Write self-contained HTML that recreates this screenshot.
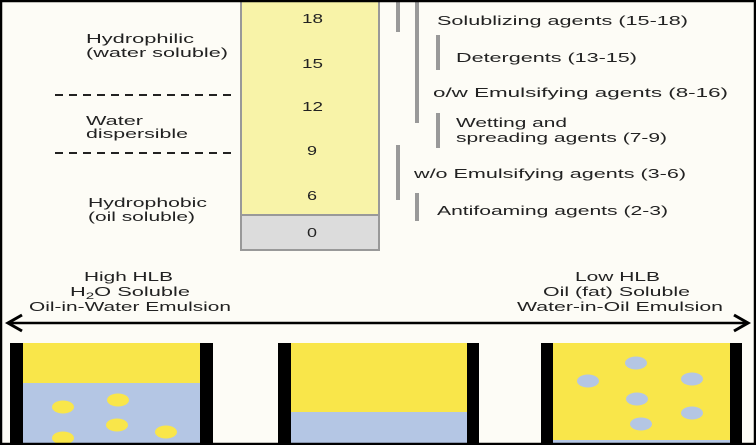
<!DOCTYPE html>
<html><head><meta charset="utf-8"><style>
html,body{margin:0;padding:0}
body{width:756px;height:445px;overflow:hidden;background:#fdfcf6;font-family:"Liberation Sans",sans-serif;color:#222}
svg{display:block}
</style></head><body>
<svg width="756" height="445" viewBox="0 0 756 445" xmlns="http://www.w3.org/2000/svg" font-family="Liberation Sans, sans-serif">
<rect x="0" y="0" width="756" height="445" fill="#fdfcf6"/>
<rect x="241" y="-2" width="138" height="217" fill="#f8f3a8" stroke="#999" stroke-width="2"/>
<rect x="241" y="215" width="138" height="35" fill="#dcdcdc" stroke="#999" stroke-width="2"/>
<g font-size="13" fill="#222" lengthAdjust="spacingAndGlyphs">
<text x="302" y="23" textLength="21" lengthAdjust="spacingAndGlyphs">18</text>
<text x="302" y="68" textLength="21" lengthAdjust="spacingAndGlyphs">15</text>
<text x="302" y="111" textLength="21" lengthAdjust="spacingAndGlyphs">12</text>
<text x="307" y="155" textLength="10" lengthAdjust="spacingAndGlyphs">9</text>
<text x="307" y="200" textLength="10" lengthAdjust="spacingAndGlyphs">6</text>
<text x="307" y="237" textLength="10" lengthAdjust="spacingAndGlyphs">0</text>
</g>
<g stroke="#222" stroke-width="2" stroke-dasharray="8,6">
<line x1="55" y1="95" x2="237" y2="95"/><line x1="55" y1="153" x2="237" y2="153"/>
</g>
<g font-size="13" fill="#222">
<text x="86" y="43" textLength="108" lengthAdjust="spacingAndGlyphs">Hydrophilic</text>
<text x="86" y="57" textLength="142" lengthAdjust="spacingAndGlyphs">(water soluble)</text>
<text x="86" y="125" textLength="57" lengthAdjust="spacingAndGlyphs">Water</text>
<text x="86" y="138" textLength="102" lengthAdjust="spacingAndGlyphs">dispersible</text>
<text x="88" y="207" textLength="119" lengthAdjust="spacingAndGlyphs">Hydrophobic</text>
<text x="88" y="221" textLength="107" lengthAdjust="spacingAndGlyphs">(oil soluble)</text>
</g>
<g fill="#999">
<rect x="396" y="0" width="4" height="32"/>
<rect x="415" y="0" width="4" height="123"/>
<rect x="436" y="35" width="4" height="35"/>
<rect x="436" y="113" width="4" height="35"/>
<rect x="396" y="145" width="4" height="55"/>
<rect x="415" y="193" width="4" height="28"/>
</g>
<g font-size="13" fill="#222">
<text x="437" y="25" textLength="251" lengthAdjust="spacingAndGlyphs">Solublizing agents (15-18)</text>
<text x="456" y="62" textLength="181" lengthAdjust="spacingAndGlyphs">Detergents (13-15)</text>
<text x="433" y="97" textLength="295" lengthAdjust="spacingAndGlyphs">o/w Emulsifying agents (8-16)</text>
<text x="456" y="127" textLength="111" lengthAdjust="spacingAndGlyphs">Wetting and</text>
<text x="456" y="142" textLength="211" lengthAdjust="spacingAndGlyphs">spreading agents (7-9)</text>
<text x="414" y="178" textLength="272" lengthAdjust="spacingAndGlyphs">w/o Emulsifying agents (3-6)</text>
<text x="437" y="215" textLength="231" lengthAdjust="spacingAndGlyphs">Antifoaming agents (2-3)</text>
</g>
<g font-size="13" fill="#222">
<text x="84" y="281" textLength="89" lengthAdjust="spacingAndGlyphs">High HLB</text>
<text x="70" y="296" textLength="120" lengthAdjust="spacingAndGlyphs">H<tspan font-size="9" dy="3">2</tspan><tspan dy="-3">O Soluble</tspan></text>
<text x="29" y="311" textLength="202" lengthAdjust="spacingAndGlyphs">Oil-in-Water Emulsion</text>
<text x="575" y="281" textLength="85" lengthAdjust="spacingAndGlyphs">Low HLB</text>
<text x="543" y="296" textLength="147" lengthAdjust="spacingAndGlyphs">Oil (fat) Soluble</text>
<text x="517" y="311" textLength="206" lengthAdjust="spacingAndGlyphs">Water-in-Oil Emulsion</text>
</g>
<line x1="8" y1="323" x2="748" y2="323" stroke="#000" stroke-width="2.5"/>
<polyline points="22,315 8,323 22,331" fill="none" stroke="#000" stroke-width="3"/>
<polyline points="734,315 748,323 734,331" fill="none" stroke="#000" stroke-width="3"/>
<rect x="23" y="343" width="179" height="40" fill="#f9e64a"/>
<rect x="23" y="383" width="179" height="62" fill="#b4c6e4"/>
<g fill="#f9e64a">
<ellipse cx="63" cy="407" rx="11" ry="6.5"/><ellipse cx="118" cy="400" rx="11" ry="6.5"/><ellipse cx="117" cy="425" rx="11" ry="6.5"/>
<ellipse cx="63" cy="438" rx="11" ry="6.5"/><ellipse cx="166" cy="432" rx="11" ry="6.5"/>
</g>
<rect x="10" y="343" width="13" height="102" fill="#000"/><rect x="200" y="343" width="13" height="102" fill="#000"/>
<rect x="291" y="343" width="176" height="69" fill="#f9e64a"/>
<rect x="291" y="412" width="176" height="33" fill="#b4c6e4"/>
<rect x="278" y="343" width="13" height="102" fill="#000"/><rect x="467" y="343" width="12" height="102" fill="#000"/>
<rect x="553" y="343" width="177" height="97" fill="#f9e64a"/>
<rect x="553" y="440" width="177" height="5" fill="#b4c6e4"/>
<g fill="#b4c6e4">
<ellipse cx="636" cy="363" rx="11" ry="6.5"/><ellipse cx="588" cy="381" rx="11" ry="6.5"/><ellipse cx="692" cy="379" rx="11" ry="6.5"/>
<ellipse cx="637" cy="399" rx="11" ry="6.5"/><ellipse cx="692" cy="413" rx="11" ry="6.5"/><ellipse cx="641" cy="424" rx="11" ry="6.5"/>
</g>
<rect x="541" y="343" width="12" height="102" fill="#000"/><rect x="730" y="343" width="12" height="102" fill="#000"/>
<rect x="1" y="1" width="754" height="443" fill="none" stroke="#000" stroke-width="2.5"/>
</svg>
</body></html>
